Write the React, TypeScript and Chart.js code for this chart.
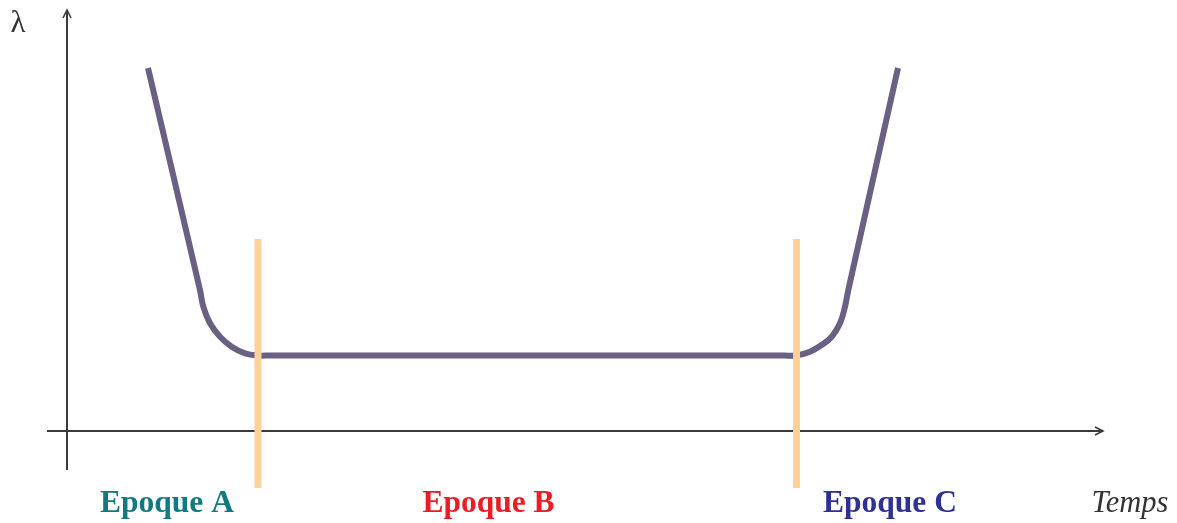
import React, { useEffect, useRef } from "react";
import { Chart, registerables } from "chart.js";

Chart.register(...registerables);

// Bathtub curve (time, failure rate λ), in chart units (origin = axes crossing)
const curveTime = [8.1, 13.3, 13.63, 14.3, 15.3, 16.47, 17.8, 19.1, 20.3, 71.7, 72.9, 74.3, 75.47, 76.47, 77.3, 77.8, 78.13, 83.1];
const curveLambda = [36.3, 14.1, 12.43, 10.77, 9.43, 8.43, 7.77, 7.55, 7.55, 7.55, 7.55, 7.93, 8.6, 9.43, 10.77, 12.43, 14.1, 36.3];

// Epoch boundaries (vertical markers)
const boundaryTimes = [19.1, 72.95];
const boundaryRange = [-5.7, 19.2];

// Epoch labels
const epochLabels = ["Epoque A", "Epoque B", "Epoque C"];
const epochLabelTimes = [10.0, 42.15, 82.3];
const epochColors = ["#137980", "#ec1c24", "#2e3192"];
const labelLambda = -8.1;

// Axes extents
const xAxisRange = [-2.0, 103.6];
const yAxisRange = [-3.9, 42.1];
const yAxisTitle = "λ";
const xAxisTitle = "Temps";

const xMin = -6.7, xMax = 111.0, yMin = -9.2, yMax = 43.1;

export default function App() {
  const ref = useRef<HTMLCanvasElement | null>(null);
  useEffect(() => {
    const canvas = ref.current;
    if (!canvas) return;
    const axesColor = "#3a3a3a";
    const axesPlugin = {
      id: "axesPlugin",
      beforeDatasetsDraw(chart: any) {
        const { ctx, scales } = chart;
        const xs = scales.x, ys = scales.y;
        const X = (v: number) => xs.getPixelForValue(v);
        const Y = (v: number) => ys.getPixelForValue(v);
        ctx.save();
        ctx.strokeStyle = axesColor;
        ctx.lineWidth = 2;
        ctx.lineCap = "butt";
        // y axis
        ctx.beginPath();
        ctx.moveTo(X(0), Y(yAxisRange[0]));
        ctx.lineTo(X(0), Y(yAxisRange[1]));
        ctx.stroke();
        // x axis
        ctx.beginPath();
        ctx.moveTo(X(xAxisRange[0]), Y(0));
        ctx.lineTo(X(xAxisRange[1]), Y(0));
        ctx.stroke();
        // arrowheads
        ctx.lineWidth = 1.6;
        const tx = X(0), ty = Y(yAxisRange[1]);
        ctx.beginPath();
        ctx.moveTo(tx - 4, ty + 8);
        ctx.lineTo(tx, ty);
        ctx.lineTo(tx + 4, ty + 8);
        ctx.stroke();
        const ax = X(xAxisRange[1]), ay = Y(0);
        ctx.beginPath();
        ctx.moveTo(ax - 8, ay - 4);
        ctx.lineTo(ax, ay);
        ctx.lineTo(ax - 8, ay + 4);
        ctx.stroke();
        ctx.restore();
      },
      afterDatasetsDraw(chart: any) {
        const { ctx, scales } = chart;
        const xs = scales.x, ys = scales.y;
        const X = (v: number) => xs.getPixelForValue(v);
        const Y = (v: number) => ys.getPixelForValue(v);
        ctx.save();
        ctx.textAlign = "center";
        ctx.textBaseline = "alphabetic";
        epochLabels.forEach((lab, i) => {
          ctx.fillStyle = epochColors[i];
          ctx.font = "bold 31.5px 'Liberation Serif', serif";
          ctx.fillText(lab, X(epochLabelTimes[i]), Y(labelLambda));
        });
        ctx.fillStyle = "#333333";
        ctx.font = "italic 30.5px 'Liberation Serif', serif";
        ctx.fillText(xAxisTitle, X(106.3), Y(labelLambda));
        ctx.font = "31px 'Liberation Serif', serif";
        ctx.fillText(yAxisTitle, X(-4.9), Y(39.9));
        ctx.restore();
      },
    };
    const chart = new Chart(canvas, {
      type: "line",
      data: {
        datasets: [
          ...boundaryTimes.map((t) => ({
            data: boundaryRange.map((l) => ({ x: t, y: l })),
            borderColor: "#fed19b",
            borderWidth: 7,
            pointRadius: 0,
            order: 0,
          })),
          {
            data: curveTime.map((t, i) => ({ x: t, y: curveLambda[i] })),
            borderColor: "#696084",
            borderWidth: 6,
            pointRadius: 0,
            tension: 0.4,
            order: 1,
          },
        ],
      },
      options: {
        animation: false,
        responsive: false,
        maintainAspectRatio: false,
        layout: { padding: 0 },
        plugins: { legend: { display: false }, tooltip: { enabled: false } },
        scales: {
          x: { type: "linear", min: xMin, max: xMax, display: false },
          y: { type: "linear", min: yMin, max: yMax, display: false },
        },
      },
      plugins: [axesPlugin],
    } as any);
    return () => chart.destroy();
  }, []);
  return (
    <div style={{ position: "absolute", left: 0, top: 0, width: 1177, height: 523, background: "#fff" }}>
      <canvas ref={ref} width={1177} height={523} style={{ width: 1177, height: 523 }} />
    </div>
  );
}
